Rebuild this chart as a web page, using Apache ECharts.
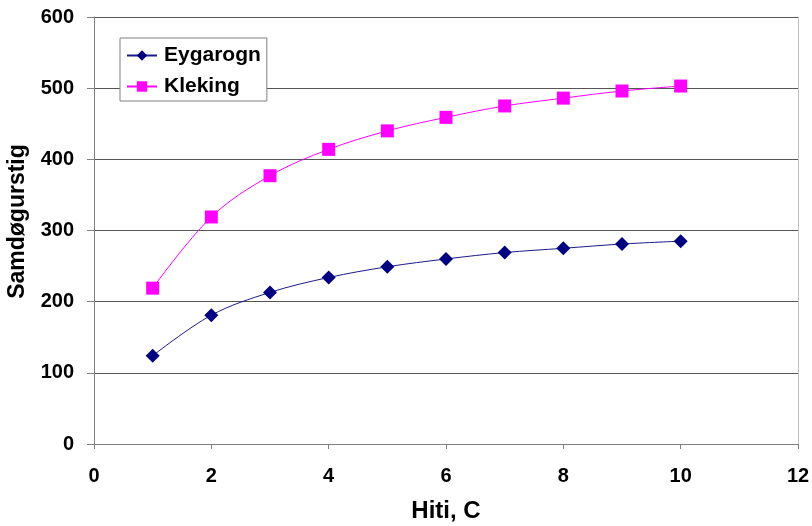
<!DOCTYPE html>
<html><head><meta charset="utf-8">
<script src="https://cdn.jsdelivr.net/npm/echarts@6/dist/echarts.min.js"></script>
<style>html,body{margin:0;padding:0;background:#fff}#c{width:812px;height:526px}</style>
</head><body><div id="c"></div>
<script>
var xValues = [1, 2, 3, 4, 5, 6, 7, 8, 9, 10];
var eygarogn = [124, 181, 213, 234, 249, 260, 269, 275, 281, 285];
var kleking = [219, 319, 377, 414, 440, 459, 475, 486, 496, 503];
var seriesNames = ['Eygarogn', 'Kleking'];

function pairs(ys){ return xValues.map(function(x,i){ return [x, ys[i]]; }); }
var font = 'Arial, "Liberation Sans", sans-serif';
var chart = echarts.init(document.getElementById('c'));
chart.setOption({
  animation: false,
  backgroundColor: '#fff',
  grid: { left: 94, right: 14, top: 17, bottom: 82, containLabel: false, outerBoundsMode: 'none' },
  legend: {
    orient: 'vertical', left: 120, top: 38,
    padding: [7, 6, 4, 6], itemGap: 10, itemWidth: 30, itemHeight: 13,
    borderColor: '#808080', borderWidth: 1, backgroundColor: '#fff',
    textStyle: { fontFamily: font, fontWeight: 'bold', fontSize: 21, color: '#000', padding: [0, 0, 0, 2] },
    data: seriesNames
  },
  xAxis: {
    type: 'value', min: 0, max: 12, interval: 2,
    name: 'Hiti, C', nameLocation: 'middle', nameGap: 55,
    nameTextStyle: { fontFamily: font, fontWeight: 'bold', fontSize: 24, color: '#000' },
    axisLine: { show: true, onZero: false, lineStyle: { color: '#808080', width: 1 } },
    axisTick: { show: true, length: 5, lineStyle: { color: '#808080' } },
    axisLabel: { margin: 22, fontFamily: font, fontWeight: 'bold', fontSize: 20, color: '#000' },
    splitLine: { show: false }
  },
  yAxis: [{
    type: 'value', min: 0, max: 600, interval: 100,
    name: 'Samdøgurstig', nameLocation: 'middle', nameGap: 65,
    nameTextStyle: { fontFamily: font, fontWeight: 'bold', fontSize: 23, color: '#000', padding: [0, 0, 0, 18] },
    axisLine: { show: true, lineStyle: { color: '#808080', width: 1 } },
    axisTick: { show: true, length: 7, lineStyle: { color: '#808080' } },
    axisLabel: { margin: 20, fontFamily: font, fontWeight: 'bold', fontSize: 20, color: '#000' },
    splitLine: { show: true, lineStyle: { color: '#555', width: 1 } }
  }, {
    type: 'value', min: 0, max: 600, interval: 100, position: 'right',
    axisLine: { show: true, lineStyle: { color: '#c0c0c0', width: 1 } },
    axisTick: { show: false }, axisLabel: { show: false }, splitLine: { show: false }
  }],
  series: [{
    name: seriesNames[0], type: 'line', smooth: 0.35,
    data: pairs(eygarogn),
    symbol: 'diamond', symbolSize: 14,
    lineStyle: { color: '#1a1a8a', width: 1 },
    itemStyle: { color: '#000080' }
  }, {
    name: seriesNames[1], type: 'line', smooth: 0.35,
    data: pairs(kleking),
    symbol: 'rect', symbolSize: 13,
    lineStyle: { color: '#ff00ff', width: 1 },
    itemStyle: { color: '#ff00ff' }
  }]
});
</script></body></html>
